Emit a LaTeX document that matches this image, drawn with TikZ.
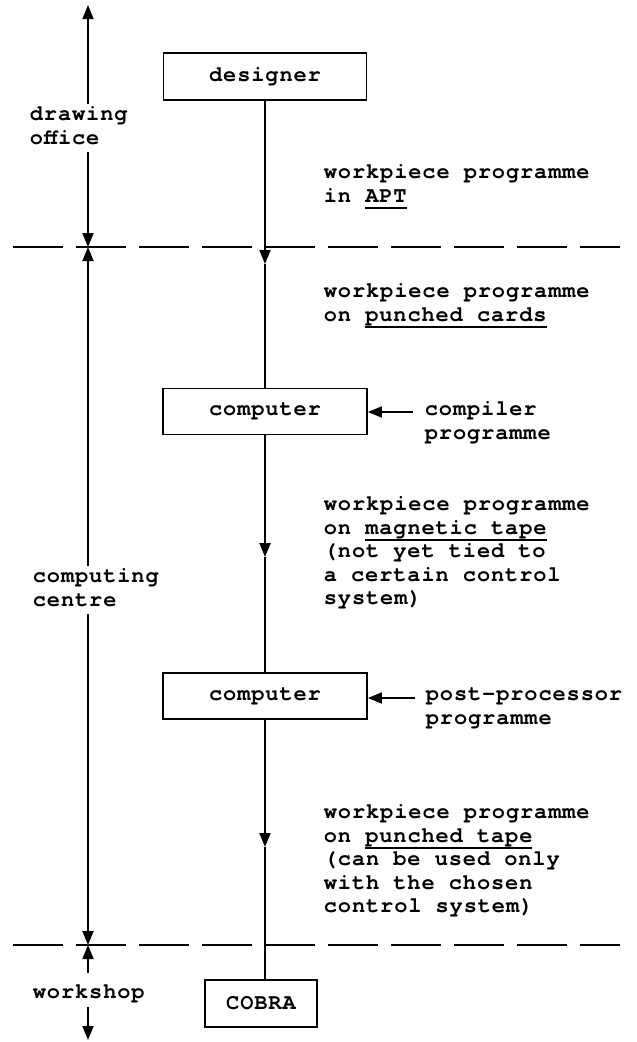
\documentclass[tikz,border=0pt]{standalone}
\usepackage{fontspec}
\usepackage{tikz}
\usetikzlibrary{positioning, calc, arrows.meta}
\newfontfamily\tw[LetterSpace=4]{texgyrecursor-bold.otf}
\newcommand{\undl}[1]{\setbox0\hbox{#1}\rlap{\rule[-6.5pt]{\wd0}{1.5pt}}\box0}

\begin{document}
\begin{tikzpicture}[x=1pt, y=-1pt, >={Triangle[length=14pt, width=11pt]}, line width=1.8pt,
    font={\fontsize{22}{23.5}\tw},
    box/.style={draw, minimum width=204pt, minimum height=46pt, inner sep=0pt},
    txt/.style={align=left, anchor=north west, inner sep=0pt},
    sep/.style={dash pattern=on 50pt off 13pt, line width=1.6pt}]
    \useasboundingbox (0,0) rectangle (637,1042);

    % Boxes
    \node[box, minimum width=203pt, minimum height=47pt] (des) at (265,76.5) {designer};
    \node[box] (cmp1) at (265,411.5) {computer};
    \node[box] (cmp2) at (265,696) {computer};
    \node[box, minimum width=112pt, minimum height=47pt] (cobra) at (261,1003.5) {COBRA};

    % Texts right of the flow
    \node[txt] (apt) at (323,161.5) {\strut workpiece programme\\in \undl{APT}};
    \node[txt] (cards) at (323,280.5) {\strut workpiece programme\\on \undl{punched cards}};
    \node[txt] (cpl) at (424,398.5) {\strut compiler\\programme};
    \node[txt] (mag) at (323,493.5) {\strut workpiece programme\\on \undl{magnetic tape}\\(not yet tied to\\a certain control\\system)};
    \node[txt] (post) at (425,683.5) {\strut post-processor\\programme};
    \node[txt] (ptape) at (323,801.5) {\strut workpiece programme\\on \undl{punched tape}\\(can be used only\\with the chosen\\control system)};

    % Departments
    \node[txt] (office) at (29,103.5) {\strut drawing\\office\strut};
    \node[txt] (centre) at (32,565.5) {\strut computing\\centre\strut};
    \node[txt] (shop) at (32,981.5) {\strut workshop\strut};

    \coordinate (top) at (88,5);
    \coordinate (bot) at (88,1040);
    \coordinate (sep1l) at (13,247);
    \coordinate (sep1r) at (620,247);
    \coordinate (sep2l) at (13,945);
    \coordinate (sep2r) at (620,945);
    \coordinate (m1) at (265,264);
    \coordinate (m2) at (265,557);
    \coordinate (m3) at (265,847);
    \coordinate (cplin) at (413,412);
    \coordinate (postin) at (415,698);

    % Borders between departments
    \draw[sep] (sep1l) -- (sep1r);
    \draw[sep] (sep2l) -- (sep2r);

    \draw[->] (office.north -| top) -- (top);
    \draw[->] (office.south -| top) -- (top |- sep1l);
    \draw[->] (centre.north -| top) -- (top |- sep1l);
    \draw[->] (centre.south -| top) -- (top |- sep2l);
    \draw[->] ($(shop.north -| top)+(0,-9)$) -- (top |- sep2l);
    \draw[->] (shop.south -| top) -- (bot);

    % Programme flow
    \draw[->] (des) -- (m1);
    \draw (m1) -- (cmp1);
    \draw[->] (cmp1) -- (m2);
    \draw (m2) -- (cmp2);
    \draw[->] (cmp2) -- (m3);
    \draw (m3) -- (m3 |- cobra.north);
    \draw[->] (cplin) -- (cplin -| cmp1.east);
    \draw[->] (postin) -- (postin -| cmp2.east);
\end{tikzpicture}
\end{document}
